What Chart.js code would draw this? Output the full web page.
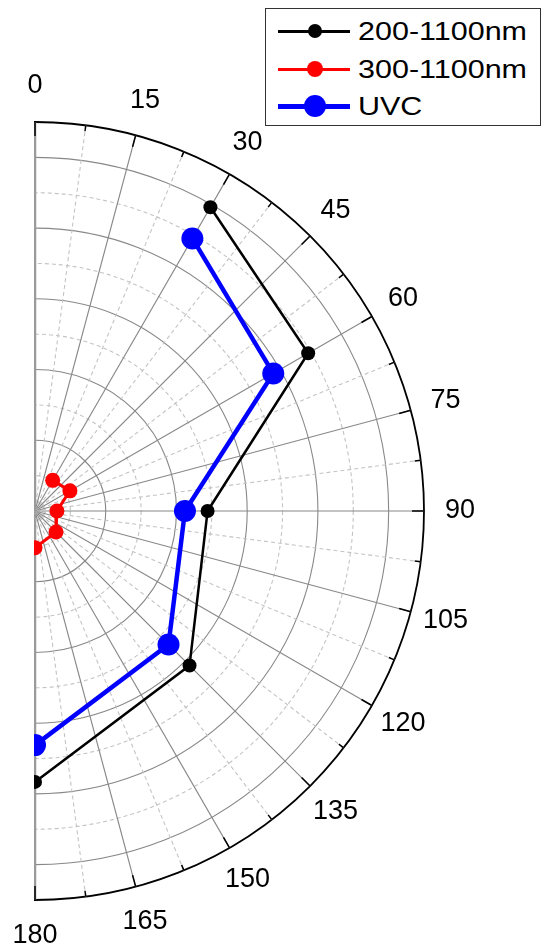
<!DOCTYPE html>
<html>
<head>
<meta charset="utf-8">
<script src="https://cdn.jsdelivr.net/npm/chart.js@4.4.0/dist/chart.umd.min.js"></script>
<style>
  html, body { margin: 0; padding: 0; background: #fff; overflow: hidden; }
  body { width: 542px; height: 949px; position: relative; font-family: "Liberation Sans", Arial, sans-serif; }
  #polar { position: absolute; left: -415px; top: 0; }
  .legend { position: absolute; left: 265px; top: 8px; width: 274px; height: 116px; border: 1.5px solid #333; background: #fff; }
  .row { position: absolute; left: 0; width: 100%; height: 36px; }
  .ln { position: absolute; left: 12px; width: 72px; }
  .dot { position: absolute; border-radius: 50%; }
  .lbl { position: absolute; left: 92px; top: 0; line-height: 36px; font-size: 25px; color: #000;
         white-space: nowrap; transform: scaleX(1.22); transform-origin: left center; }
</style>
</head>
<body>
<canvas id="polar" width="900" height="949"></canvas>

<div class="legend">
  <div class="row" style="top:4px">
    <div class="ln" style="top:16.5px;height:3px;background:#000"></div>
    <div class="dot" style="left:42px;top:11px;width:14px;height:14px;background:#000"></div>
    <div class="lbl">200-1100nm</div>
  </div>
  <div class="row" style="top:42px">
    <div class="ln" style="top:16.5px;height:3px;background:#ff0000"></div>
    <div class="dot" style="left:41px;top:10px;width:16px;height:16px;background:#ff0000"></div>
    <div class="lbl">300-1100nm</div>
  </div>
  <div class="row" style="top:79px">
    <div class="ln" style="top:15.5px;height:5px;background:#0000ff"></div>
    <div class="dot" style="left:38px;top:7px;width:22px;height:22px;background:#0000ff"></div>
    <div class="lbl">UVC</div>
  </div>
</div>

<script>
// angle axis (degrees, 0 at top, clockwise) and its labels
var tickAngles = [0, 15, 30, 45, 60, 75, 90, 105, 120, 135, 150, 165, 180];
var tickLabels = ['0', '15', '30', '45', '60', '75', '90', '105', '120', '135', '150', '165', '180'];
var angleStep = 7.5;
var rMax = 5.5;

// measured angles and radii for each series
var pointAngles = [30, 60, 90, 135, 180];
var uv200 = [4.96, 4.46, 2.44, 3.09, 3.83];
var uv300 = [0.50, 0.57, 0.31, 0.42, 0.52];
var uvc   = [4.45, 3.89, 2.12, 2.67, 3.31];

// one spoke every 7.5 degrees round the full circle, left half is hidden
var spokes = [];
for (var a = 0; a < 360; a += angleStep) spokes.push(a);

function toSpokes(vals) {
    var out = spokes.map(function() { return null; });
    pointAngles.forEach(function(ang, i) {
        out[spokes.indexOf(ang)] = vals[i];
    });
    return out;
}

function isMinor(v) {
    return v < rMax && v % 1 !== 0;
}

// only the right half of the polar plot is shown
var halfPlane = {
    id: 'halfPlane',
    afterDatasetsUpdate: function(chart) {
        // radar lines are closed loops by default, keep them open
        chart.getSortedVisibleDatasetMetas().forEach(function(meta) {
            if (meta.dataset) {
                meta.dataset._loop = false;
                meta.dataset._fullLoop = false;
                delete meta.dataset._segments;
                delete meta.dataset._path;
            }
        });
    },
    beforeDraw: function(chart) {
        var r = chart.scales.r;
        var ctx = chart.ctx;
        ctx.save();
        ctx.beginPath();
        ctx.rect(r.xCenter - 1, 0, chart.width, chart.height);
        ctx.clip();
    },
    afterDatasetsDraw: function(chart) {
        chart.ctx.restore();
    }
};

// tick marks on the outer arc and the angle labels
var angleAxis = {
    id: 'angleAxis',
    afterDraw: function(chart) {
        var r = chart.scales.r;
        var ctx = chart.ctx;
        var R = r.drawingArea;
        var last = 180 / angleStep;
        ctx.save();
        ctx.strokeStyle = '#000';
        ctx.lineWidth = 1.5;
        for (var i = 0; i <= last; i++) {
            var len = (i === 0 || i === last) ? 14 : (i % 2 ? 6 : 12);
            var p0 = r.getPointPosition(i, R);
            var p1 = r.getPointPosition(i, R - len);
            ctx.beginPath();
            ctx.moveTo(p0.x, p0.y);
            ctx.lineTo(p1.x, p1.y);
            ctx.stroke();
        }
        ctx.fillStyle = '#000';
        ctx.font = '27px "Liberation Sans", Arial, sans-serif';
        ctx.textAlign = 'center';
        ctx.textBaseline = 'middle';
        tickAngles.forEach(function(ang, k) {
            var p = r.getPointPosition(spokes.indexOf(ang), R + 36);
            ctx.fillText(tickLabels[k], p.x, p.y);
        });
        ctx.restore();
    }
};

var ctx = document.getElementById('polar').getContext('2d');
var chart = new Chart(ctx, {
    type: 'radar',
    data: {
        labels: spokes.map(String),
        datasets: [{
            label: '200-1100nm',
            data: toSpokes(uv200),
            borderColor: '#000000',
            pointBackgroundColor: '#000000',
            borderWidth: 2.5,
            pointRadius: 7,
            pointBorderWidth: 0,
            spanGaps: true,
            fill: false
        }, {
            label: '300-1100nm',
            data: toSpokes(uv300),
            borderColor: '#ff0000',
            pointBackgroundColor: '#ff0000',
            borderWidth: 3,
            pointRadius: 7.5,
            pointBorderWidth: 0,
            spanGaps: true,
            fill: false
        }, {
            label: 'UVC',
            data: toSpokes(uvc),
            borderColor: '#0000ff',
            pointBackgroundColor: '#0000ff',
            borderWidth: 4.5,
            pointRadius: 11,
            pointBorderWidth: 0,
            spanGaps: true,
            fill: false
        }]
    },
    options: {
        responsive: false,
        animation: false,
        events: [],
        layout: { padding: { left: 61, right: 61, top: 122, bottom: 49 } },
        plugins: {
            legend: { display: false },
            tooltip: { enabled: false }
        },
        scales: {
            r: {
                min: 0,
                max: rMax,
                ticks: { stepSize: 0.5, display: false },
                pointLabels: { display: false },
                grid: {
                    circular: true,
                    color: function(c) {
                        if (!c.tick) return '#888888';
                        if (c.tick.value >= rMax) return '#000000';
                        return isMinor(c.tick.value) ? '#c4c4c4' : '#888888';
                    },
                    lineWidth: function(c) {
                        return (c.tick && c.tick.value >= rMax) ? 1.8 : 1.1;
                    }
                },
                border: {
                    dash: function(c) {
                        return (c.tick && isMinor(c.tick.value)) ? [4, 3] : [];
                    }
                },
                angleLines: {
                    color: function(c) {
                        if (c.index === 0 || c.index === 24) return '#9a9a9a';
                        return c.index % 2 ? '#c4c4c4' : '#888888';
                    },
                    lineWidth: function(c) {
                        if (c.index > 24) return 0;
                        return (c.index === 0 || c.index === 24) ? 2.5 : 1.1;
                    },
                    borderDash: function(c) {
                        return c.index % 2 ? [4, 3] : [];
                    }
                }
            }
        }
    },
    plugins: [halfPlane, angleAxis]
});
</script>
</body>
</html>
